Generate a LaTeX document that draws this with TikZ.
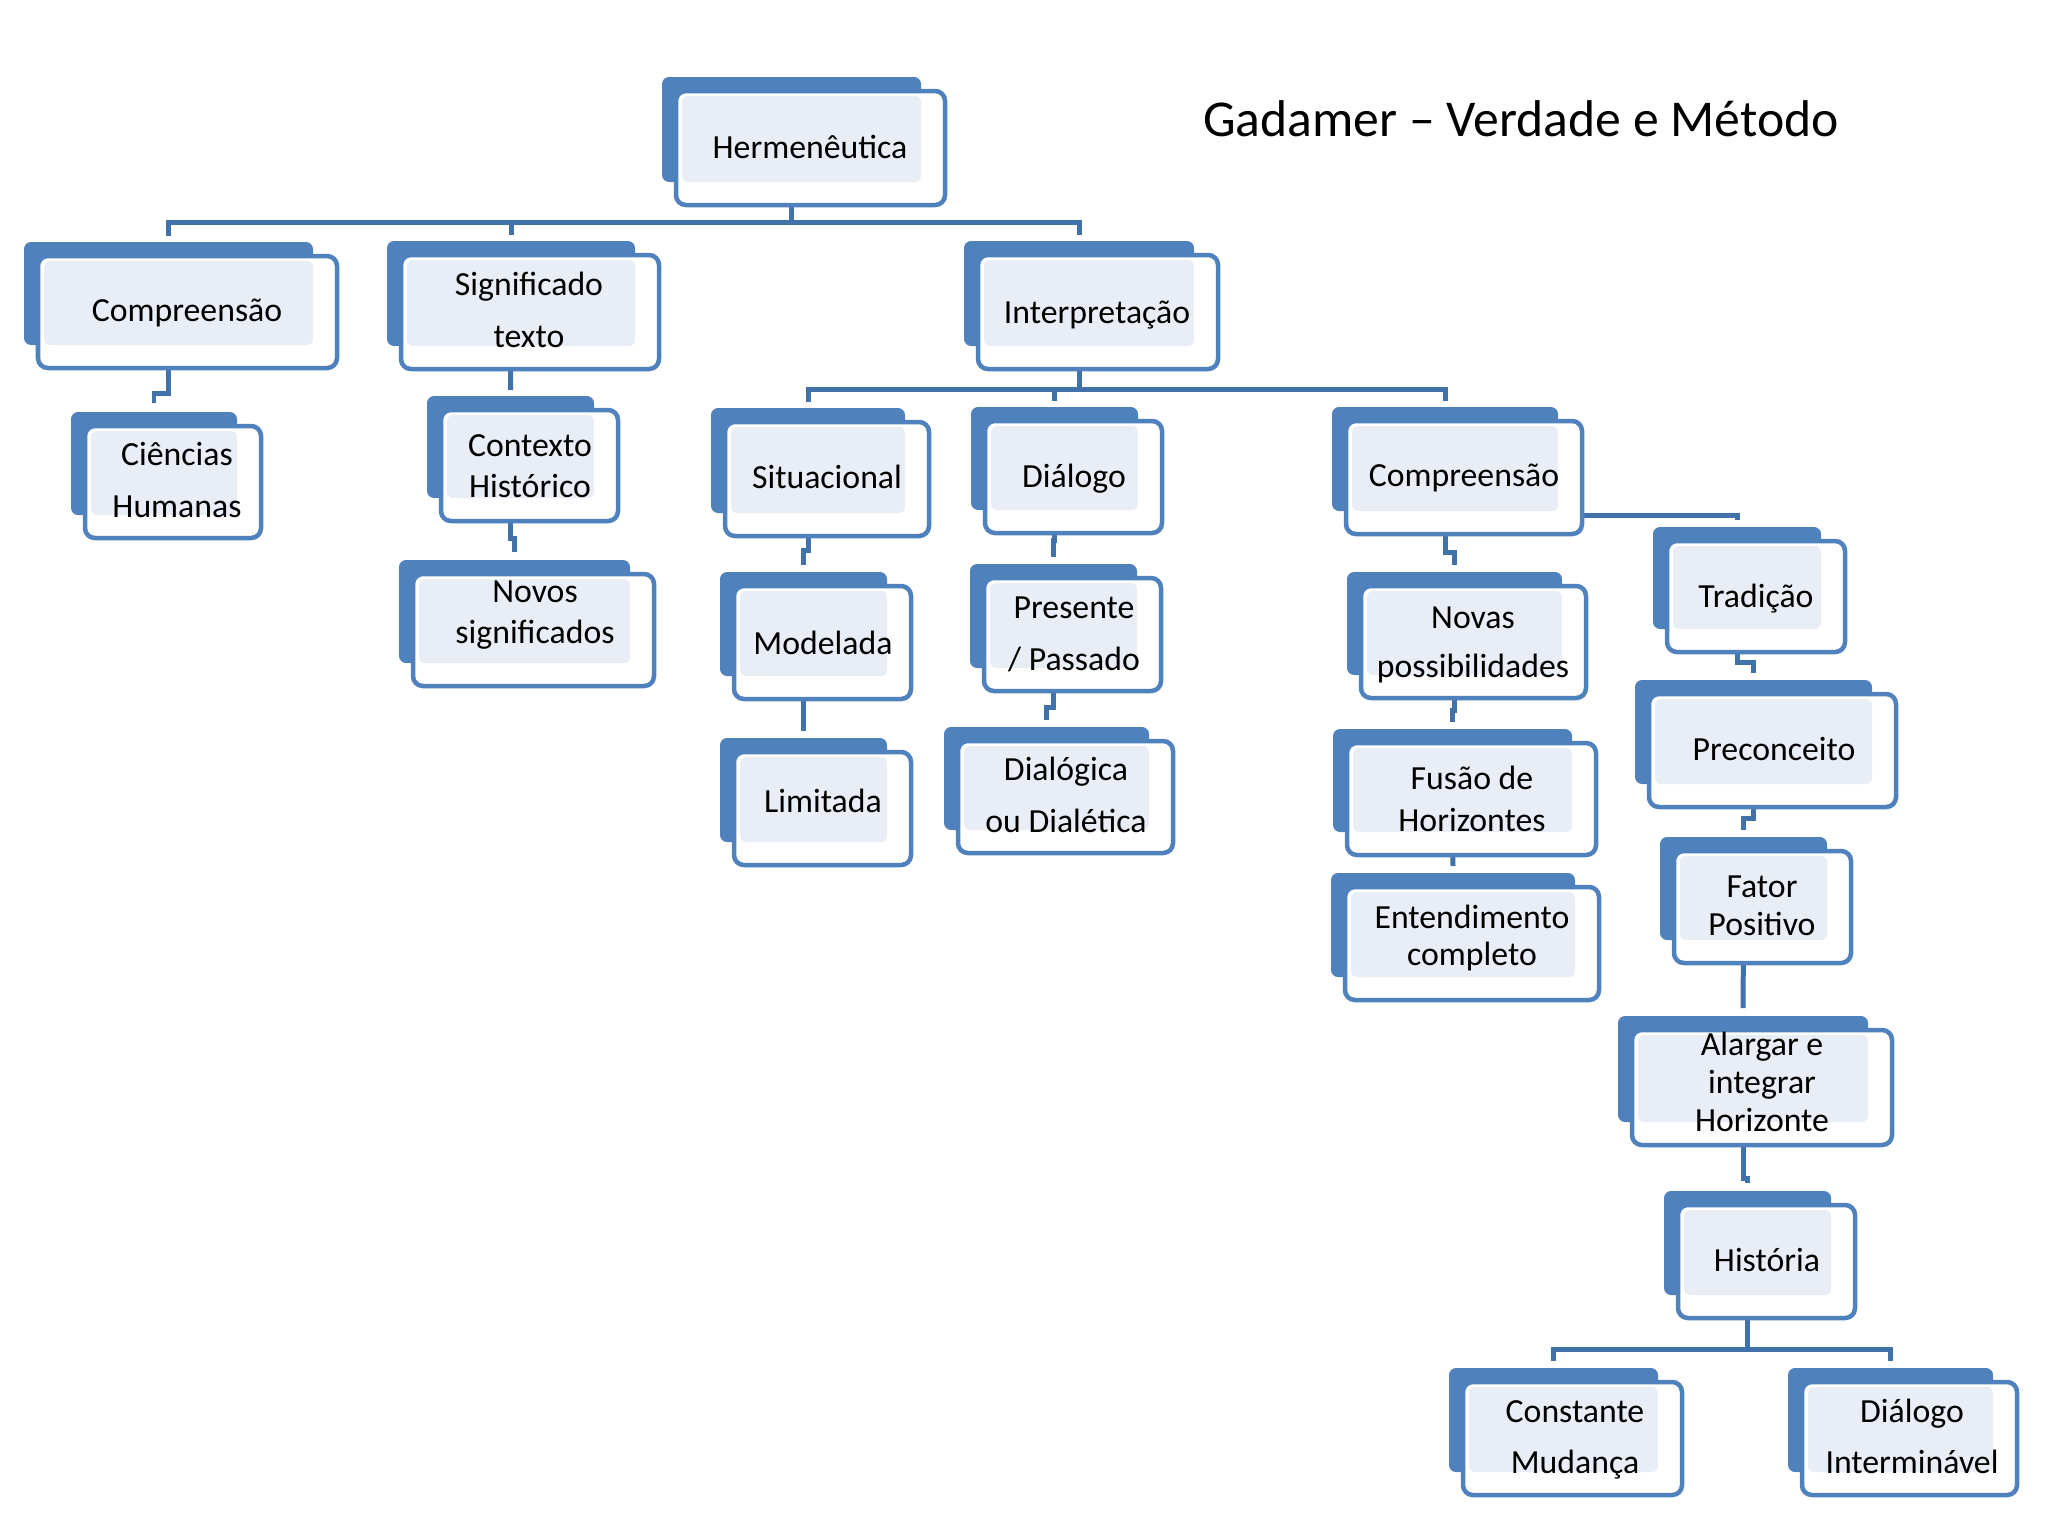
\documentclass[tikz,border=0pt]{standalone}
\usepackage{fontspec}
\setmainfont{Carlito}
\usetikzlibrary{calc}
\pgfdeclarelayer{bg}
\pgfsetlayers{bg,main}
\definecolor{backblue}{RGB}{79,129,189}
\definecolor{lightfill}{RGB}{233,238,246}
\definecolor{connblue}{RGB}{66,114,170}
\newcommand{\mycard}[5]{%
  \node[backbox, minimum width={(#4-#2)*0.01cm}, minimum height={(#5-#3)*0.01cm}] (#1) at ({(#2+#4)/2},{(#3+#5)/2}) {};
  \draw[frontbox] ({#2+14},{#3+14}) rectangle ({#4+24},{#5+23});
  \fill[lightbox] ({#2+20},{#3+19}) rectangle (#4,#5);
}
\tikzset{
  backbox/.style={rectangle, fill=backblue, rounded corners=2pt, inner sep=0pt, outer sep=0pt},
  frontbox/.style={draw=backblue, fill=white, line width=1.28pt, rounded corners=2.8pt},
  lightbox/.style={fill=lightfill, rounded corners=1.7pt},
  lbl/.style={font=\fontsize{9.6pt}{#1}\selectfont, align=center, inner sep=0pt, text=black},
  lbl/.default=11.52pt,
  conn/.style={draw=connblue, line width=1.42pt, line join=miter},
  titlefont/.style={font=\fontsize{14.7pt}{18pt}\selectfont, inner sep=0pt, anchor=base}
}
\begin{document}
\begin{tikzpicture}[x=0.01cm, y=-0.01cm]
\useasboundingbox (0,0) rectangle (2048,1536);

% cards
\mycard{herm}{662}{77}{921}{182}
\mycard{compL}{24}{242}{313}{345}
\mycard{signif}{387}{241}{635}{346}
\mycard{interp}{964}{241}{1194}{346}
\mycard{ciencias}{71}{412}{237}{515}
\mycard{contexto}{427}{396}{594}{498}
\mycard{novos}{399}{560}{630}{663}
\mycard{situ}{711}{408}{905}{513}
\mycard{dialogo}{971}{407}{1138}{510}
\mycard{compR}{1332}{407}{1558}{511}
\mycard{modelada}{720}{572}{887}{676}
\mycard{limitada}{720}{738}{887}{842}
\mycard{presente}{970}{564}{1137}{668}
\mycard{dialogica}{944}{727}{1149}{830}
\mycard{novas}{1347}{572}{1562}{675}
\mycard{fusao}{1333}{729}{1572}{832}
\mycard{entend}{1331}{873}{1575}{977}
\mycard{trad}{1653}{527}{1821}{629}
\mycard{precon}{1635}{680}{1872}{784}
\mycard{fator}{1660}{837}{1827}{940}
\mycard{alargar}{1618}{1016}{1868}{1122}
\mycard{historia}{1664}{1191}{1831}{1295}
\mycard{constante}{1449}{1368}{1658}{1472}
\mycard{dialogoI}{1788}{1368}{1993}{1472}

% texts
\node[titlefont] (title) at (1521,136) {Gadamer – Verdade e Método};
\node[lbl] (t-herm) at (810,150) {\strut Hermenêutica};
\node[lbl] (t-compL) at (187,313) {\strut Compreensão};
\node[lbl=14.8pt] (t-signif) at (529,311) {\strut Significado\\\strut texto};
\node[lbl] (t-interp) at (1097,315) {\strut Interpretação};
\node[lbl=14.8pt] (t-ciencias) at (177,481) {\strut Ciências\\\strut Humanas};
\node[lbl=11.7pt] (t-contexto) at (530,469) {\strut Contexto\\\strut Histórico};
\node[lbl=11.7pt] (t-novos) at (535,615) {\strut Novos\\\strut significados};
\node[lbl] (t-situ) at (827,480) {\strut Situacional};
\node[lbl] (t-dialogo) at (1074,479) {\strut Diálogo};
\node[lbl] (t-compR) at (1464,478) {\strut Compreensão};
\node[lbl] (t-modelada) at (823,646) {\strut Modelada};
\node[lbl] (t-limitada) at (823,804) {\strut Limitada};
\node[lbl=14.8pt] (t-presente) at (1074,634) {\strut Presente\\\strut / Passado};
\node[lbl=14.8pt] (t-dialogica) at (1066,796) {\strut Dialógica\\\strut ou Dialética};
\node[lbl=14.2pt] (t-novas) at (1473,643) {\strut Novas\\\strut possibilidades};
\node[lbl=11.9pt] (t-fusao) at (1472,802) {\strut Fusão de\\\strut Horizontes};
\node[lbl=10.5pt] (t-entend) at (1472,940) {\strut Entendimento\\\strut completo};
\node[lbl] (t-trad) at (1756,599) {\strut Tradição};
\node[lbl] (t-precon) at (1774,752) {\strut Preconceito};
\node[lbl=10.8pt] (t-fator) at (1762,909) {\strut Fator\\\strut Positivo};
\node[lbl=10.7pt] (t-alargar) at (1762,1086) {\strut Alargar e\\\strut integrar\\\strut Horizonte};
\node[lbl] (t-historia) at (1767,1263) {\strut História};
\node[lbl=14.5pt] (t-constante) at (1575,1438) {\strut Constante\\\strut Mudança};
\node[lbl=14.5pt] (t-dialogoI) at (1912,1438) {\strut Diálogo\\\strut Interminável};

% connectors (behind the cards)
\begin{pgfonlayer}{bg}
\fill[white] (0,0) rectangle (2048,1536);
\draw[conn] (herm.south) -- ++(0,40) coordinate (hj);
\draw[conn] (hj) -| ($(compL.north)+(0,-6)$);
\draw[conn] (hj) -| ($(signif.north)+(0,-6)$);
\draw[conn] (hj) -| ($(interp.north)+(0,-6)$);
\draw[conn] (compL.south) -- ++(0,48) -| ($(ciencias.north)+(0,-9)$);
\draw[conn] (signif.south) -- ($(contexto.north)+(0,-6)$);
\draw[conn] (contexto.south) -- ++(0,40) -| ($(novos.north)+(0,-8)$);
\draw[conn] (interp.south) -- ++(0,43) coordinate (ij);
\draw[conn] (ij) -| ($(situ.north)+(0,-6)$);
\draw[conn] (ij) -| ($(dialogo.north)+(0,-6)$);
\draw[conn] (ij) -| ($(compR.north)+(0,-6)$);
\draw[conn] (situ.south) -- ++(0,37) -| ($(modelada.north)+(0,-7)$);
\draw[conn] (modelada.south) -- ($(limitada.north)+(0,-7)$);
\draw[conn] (dialogo.south) -- ++(0,30) -| ($(presente.north)+(0,-7)$);
\draw[conn] (presente.south) -- ++(0,39) -| ($(dialogica.north)+(0,-7)$);
\draw[conn] (compR.south) -- ++(0,41) -| ($(novas.north)+(0,-7)$);
\draw[conn] (novas.south) -- ++(0,35) -| ($(fusao.north)+(0,-7)$);
\draw[conn] (fusao.south) -- ($(entend.north)+(0,-7)$);
\draw[conn] ($(compR.south east)+(0,4)$) -| ($(trad.north)+(0,-7)$);
\draw[conn] (trad.south) -- ++(0,33) -| ($(precon.north)+(0,-7)$);
\draw[conn] (precon.south) -- ++(0,34) -| ($(fator.north)+(0,-7)$);
\draw[conn] (fator.south) -- ($(alargar.north)+(0,-8)$);
\draw[conn] (alargar.south) -- ++(0,56) -| ($(historia.north)+(0,-8)$);
\draw[conn] (historia.south) -- ++(0,54) coordinate (hj2);
\draw[conn] (hj2) -| ($(constante.north)+(0,-7)$);
\draw[conn] (hj2) -| ($(dialogoI.north)+(0,-7)$);
\end{pgfonlayer}
\end{tikzpicture}
\end{document}
